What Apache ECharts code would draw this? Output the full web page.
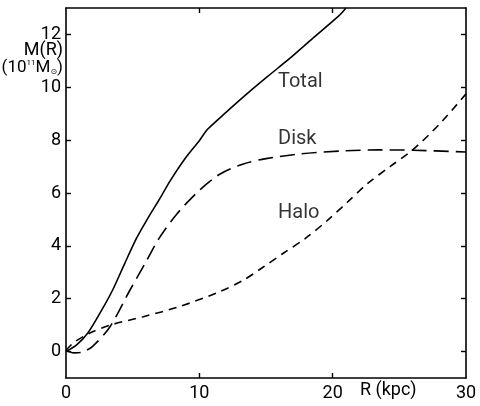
<!DOCTYPE html>
<html><head><meta charset="utf-8">
<script src="https://cdn.jsdelivr.net/npm/echarts@6/dist/echarts.min.js"></script>
<style>html,body{margin:0;padding:0;background:#fff}#c{width:480px;height:406px}</style>
</head><body><div id="c"></div>
<script>
// Total mass curve: [R (kpc), M(R) (1e11 Msun)]
const totalData = [[0,0],[0.8,0.25],[1.65,0.71],[2.6,1.5],[3.5,2.33],[4.4,3.33],[5.3,4.3],[6.2,5.1],[7.05,5.8],[7.8,6.45],[9,7.35],[10,7.98],[10.6,8.4],[12,9.05],[13.5,9.72],[15.1,10.4],[16.8,11.1],[18.5,11.85],[20.5,12.72],[21,13.0]];
const diskData = [[0,0.05],[0.6,-0.05],[1.2,-0.02],[2,0.2],[3.3,0.94],[4.8,2.33],[6,3.4],[7,4.3],[8.3,5.2],[10,6.1],[11.5,6.7],[13.3,7.1],[15,7.3],[17.6,7.48],[21,7.6],[23.5,7.63],[26,7.62],[30,7.55]];
const haloData = [[0,0.05],[0.6,0.35],[1.8,0.7],[3.3,1.0],[5.8,1.32],[8.5,1.7],[11.5,2.26],[13.3,2.7],[14.8,3.2],[16.3,3.72],[18,4.3],[19.6,4.96],[21.1,5.65],[22.6,6.35],[24.3,7.0],[26,7.63],[28,8.6],[30,9.75]];
const curveLabels = [{name:'Total', value:[15.9,10.2]},{name:'Disk', value:[15.9,8.05]},{name:'Halo', value:[15.9,5.26]}];
const xTicks = [0,10,20,30];
const yTicks = [0,2,4,6,8,10,12];

const FONT = 'Roboto, "DejaVu Sans", sans-serif';
const chart = echarts.init(document.getElementById('c'), null, {renderer:'canvas'});
const axisLine = {show:true, onZero:false, lineStyle:{color:'#000', width:1.6}};
function xAx(pos, labels){
  return {type:'value', min:0, max:30, position:pos, splitLine:{show:false},
    axisLine: axisLine,
    axisTick:{show:true, inside:true, length:5, customValues: xTicks.slice(1,3), lineStyle:{color:'#000', width:1.4}},
    axisLabel:{show:labels, customValues:xTicks, margin:6, color:'#000', fontSize:18, fontFamily:FONT}};
}
function yAx(pos, labels){
  return {type:'value', min:-1, max:13, position:pos, splitLine:{show:false},
    axisLine: axisLine,
    axisTick:{show:true, inside:true, length:5, customValues: yTicks, lineStyle:{color:'#000', width:1.4}},
    axisLabel:{show:labels, customValues:yTicks, margin:5, color:'#000', fontSize:18, fontFamily:FONT}};
}
chart.setOption({
  animation:false,
  backgroundColor:'#fff',
  grid:{left:66, right:14, top:8, bottom:28},
  xAxis:[xAx('bottom', true), xAx('top', false)],
  yAxis:[yAx('left', true), yAx('right', false)],
  series:[
    {type:'line', data: totalData, smooth:0.25, showSymbol:false, lineStyle:{color:'#000', width:1.6}},
    {type:'line', data: diskData, smooth:0.3, showSymbol:false, lineStyle:{color:'#000', width:1.6, type:[15,7]}},
    {type:'line', data: haloData, smooth:0.3, showSymbol:false, lineStyle:{color:'#000', width:1.6, type:[8,6]}},
    {type:'scatter', data: curveLabels, symbolSize:0, silent:true,
      label:{show:true, position:'right', distance:0, formatter:'{b}', color:'#000', fontSize:20, fontFamily:FONT}}
  ],
  graphic:[
    {type:'text', left:360, top:381, style:{text:'R (kpc)', fill:'#000', font:'18px ' + FONT}},
    {type:'text', right:417, top:41, style:{text:'M(R)', fill:'#000', font:'18px ' + FONT}},
    {type:'text', right:417, top:59, style:{
      text:'{a|(10}{s|11}{a|M}{b|⊙}{a|)}',
      rich:{a:{fontSize:17, fontFamily:FONT, fill:'#000'}, s:{fontSize:8, fontFamily:FONT, fill:'#000', verticalAlign:'top'}, b:{fontSize:8, fontFamily:FONT, fill:'#000', verticalAlign:'bottom'}}}}
  ]
});
</script></body></html>
